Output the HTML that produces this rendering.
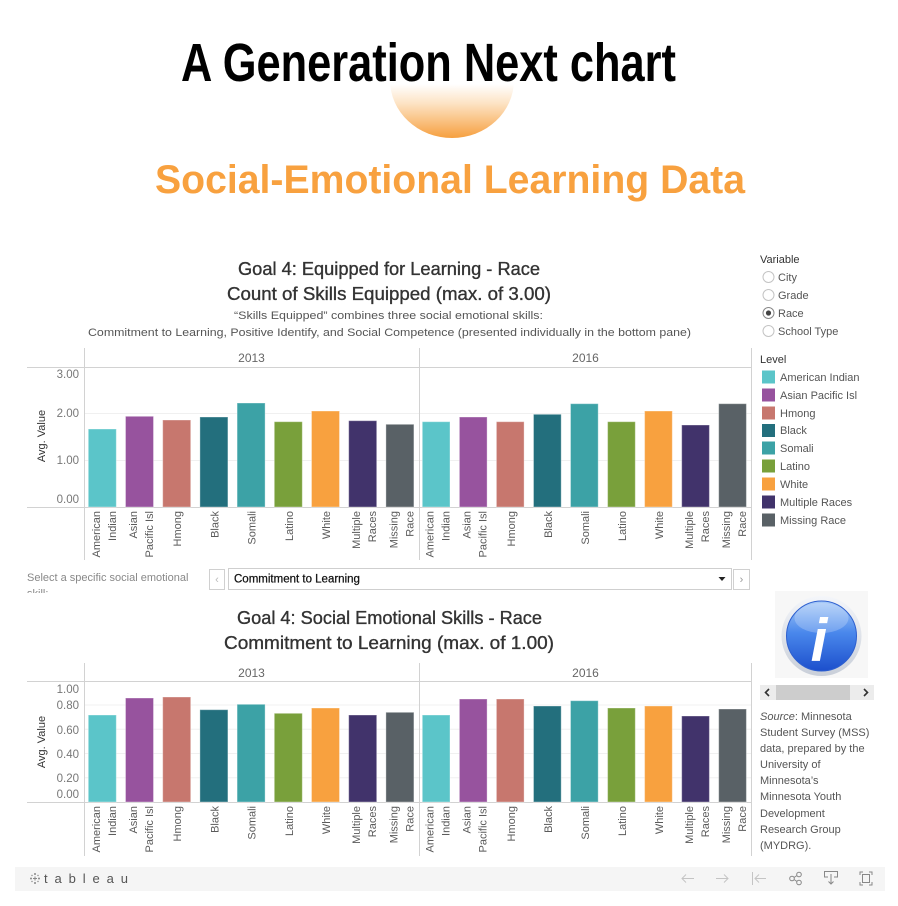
<!DOCTYPE html>
<html><head><meta charset="utf-8"><style>
html,body{margin:0;padding:0;background:#fff;}
svg{display:block;}
text{font-family:"Liberation Sans",Arial,sans-serif;}
</style></head><body>
<svg width="898" height="906" viewBox="0 0 898 906" xmlns="http://www.w3.org/2000/svg">
<defs>
<linearGradient id="og" x1="0" y1="84" x2="0" y2="138" gradientUnits="userSpaceOnUse">
<stop offset="0" stop-color="#ffffff"/><stop offset="0.35" stop-color="#fde4c6"/><stop offset="1" stop-color="#f6a040"/>
</linearGradient>
<linearGradient id="bg1" x1="0" y1="0" x2="0" y2="1">
<stop offset="0" stop-color="#a9cbf8"/><stop offset="0.45" stop-color="#4a88ec"/><stop offset="1" stop-color="#1c4fcc"/>
</linearGradient>
<linearGradient id="ring" x1="0" y1="0" x2="0" y2="1">
<stop offset="0" stop-color="#f4f6fa"/><stop offset="1" stop-color="#c9cfd9"/>
</linearGradient>
<clipPath id="selclip"><rect x="20" y="565" width="185" height="28"/></clipPath>
</defs>

<!-- Header -->
<ellipse cx="452" cy="80" rx="62" ry="58" fill="url(#og)"/>
<text x="181" y="81" font-size="54" font-weight="bold" fill="#000" textLength="495" lengthAdjust="spacingAndGlyphs">A Generation Next chart</text>
<text x="155" y="193" font-size="40" font-weight="bold" fill="#f8a13f" textLength="590" lengthAdjust="spacingAndGlyphs">Social-Emotional Learning Data</text>

<!-- Top chart titles -->
<g fill="#333" stroke="#333" stroke-width="0.35" font-size="18">
<text x="238" y="275" textLength="302" lengthAdjust="spacingAndGlyphs">Goal 4: Equipped for Learning - Race</text>
<text x="227" y="300" textLength="324" lengthAdjust="spacingAndGlyphs">Count of Skills Equipped (max. of 3.00)</text>
</g>
<g fill="#555" font-size="11">
<text x="234" y="319" textLength="309" lengthAdjust="spacingAndGlyphs">“Skills Equipped” combines three social emotional skills:</text>
<text x="88" y="336" textLength="603" lengthAdjust="spacingAndGlyphs">Commitment to Learning, Positive Identify, and Social Competence (presented individually in the bottom pane)</text>
</g>

<!-- Top chart frame -->
<g stroke="#f0f0f0" stroke-width="1">
<line x1="85" y1="413.5" x2="751" y2="413.5"/>
<line x1="85" y1="460.5" x2="751" y2="460.5"/>
</g>
<g stroke="#d2d2d2" stroke-width="1">
<line x1="84.5" y1="348" x2="84.5" y2="560"/>
<line x1="419.5" y1="348" x2="419.5" y2="560"/>
<line x1="751.5" y1="348" x2="751.5" y2="560"/>
<line x1="27" y1="367.5" x2="751" y2="367.5"/>
<line x1="27" y1="507.5" x2="751" y2="507.5"/>
</g>
<g fill="#666" font-size="12" text-anchor="middle">
<text x="251.5" y="362">2013</text>
<text x="585.5" y="362">2016</text>
</g>
<g fill="#777" font-size="11.5" text-anchor="end">
<text x="79" y="378">3.00</text>
<text x="79" y="417">2.00</text>
<text x="79" y="464">1.00</text>
<text x="79" y="503">0.00</text>
</g>
<text transform="translate(45,436) rotate(-90)" text-anchor="middle" font-size="11" fill="#333">Avg. Value</text>

<!-- Top bars -->
<g stroke="rgba(255,255,255,0.35)" stroke-width="1">
<rect x="88.3" y="429" width="28" height="78" fill="#5bc5c9"/>
<rect x="125.5" y="416.3" width="28" height="90.7" fill="#97539e"/>
<rect x="162.7" y="420" width="28" height="87" fill="#c7776e"/>
<rect x="199.9" y="417" width="28" height="90" fill="#236f7d"/>
<rect x="237.1" y="403" width="28" height="104" fill="#3ca2a6"/>
<rect x="274.3" y="421.7" width="28" height="85.3" fill="#79a03b"/>
<rect x="311.5" y="411" width="28" height="96" fill="#f8a13f"/>
<rect x="348.7" y="420.7" width="28" height="86.3" fill="#41336b"/>
<rect x="385.9" y="424.3" width="28" height="82.7" fill="#596166"/>
<rect x="422.3" y="421.7" width="27.7" height="85.3" fill="#5bc5c9"/>
<rect x="459.4" y="417" width="27.7" height="90" fill="#97539e"/>
<rect x="496.4" y="421.7" width="27.7" height="85.3" fill="#c7776e"/>
<rect x="533.5" y="414.3" width="27.7" height="92.7" fill="#236f7d"/>
<rect x="570.5" y="403.7" width="27.7" height="103.3" fill="#3ca2a6"/>
<rect x="607.6" y="421.7" width="27.7" height="85.3" fill="#79a03b"/>
<rect x="644.6" y="411" width="27.7" height="96" fill="#f8a13f"/>
<rect x="681.7" y="425" width="27.7" height="82" fill="#41336b"/>
<rect x="718.7" y="403.7" width="27.7" height="103.3" fill="#596166"/>
</g>

<!-- Top x labels -->
<g fill="#5a5a5a" font-size="11" text-anchor="end">
<text transform="translate(99.8,511) rotate(-90)">American</text>
<text transform="translate(115.8,511) rotate(-90)">Indian</text>
<text transform="translate(137,511) rotate(-90)">Asian</text>
<text transform="translate(153,511) rotate(-90)">Pacific Isl</text>
<text transform="translate(181.2,511) rotate(-90)">Hmong</text>
<text transform="translate(218.4,511) rotate(-90)">Black</text>
<text transform="translate(255.6,511) rotate(-90)">Somali</text>
<text transform="translate(292.8,511) rotate(-90)">Latino</text>
<text transform="translate(330,511) rotate(-90)">White</text>
<text transform="translate(360.2,511) rotate(-90)">Multiple</text>
<text transform="translate(376.2,511) rotate(-90)">Races</text>
<text transform="translate(397.4,511) rotate(-90)">Missing</text>
<text transform="translate(413.4,511) rotate(-90)">Race</text>
<text transform="translate(433.7,511) rotate(-90)">American</text>
<text transform="translate(449.7,511) rotate(-90)">Indian</text>
<text transform="translate(470.7,511) rotate(-90)">Asian</text>
<text transform="translate(486.7,511) rotate(-90)">Pacific Isl</text>
<text transform="translate(514.8,511) rotate(-90)">Hmong</text>
<text transform="translate(551.8,511) rotate(-90)">Black</text>
<text transform="translate(588.9,511) rotate(-90)">Somali</text>
<text transform="translate(625.9,511) rotate(-90)">Latino</text>
<text transform="translate(663,511) rotate(-90)">White</text>
<text transform="translate(693,511) rotate(-90)">Multiple</text>
<text transform="translate(709,511) rotate(-90)">Races</text>
<text transform="translate(730.1,511) rotate(-90)">Missing</text>
<text transform="translate(746.1,511) rotate(-90)">Race</text>
</g>

<!-- Right legend -->
<g font-size="11">
<text x="760" y="263" fill="#333">Variable</text>
<g fill="#fff" stroke="#c4c4c4" stroke-width="1">
<circle cx="768.5" cy="277" r="5.5"/>
<circle cx="768.5" cy="295" r="5.5"/>
<circle cx="768.5" cy="313" r="5.5" stroke="#888"/>
<circle cx="768.5" cy="331" r="5.5"/>
</g>
<circle cx="768.5" cy="313" r="2.6" fill="#444"/>
<g fill="#555">
<text x="778" y="281">City</text>
<text x="778" y="299">Grade</text>
<text x="778" y="317">Race</text>
<text x="778" y="335">School Type</text>
</g>
<text x="760" y="363" fill="#333">Level</text>
<rect x="762" y="370.5" width="13" height="13" fill="#5bc5c9"/>
<rect x="762" y="388.5" width="13" height="13" fill="#97539e"/>
<rect x="762" y="406.5" width="13" height="13" fill="#c7776e"/>
<rect x="762" y="424" width="13" height="13" fill="#236f7d"/>
<rect x="762" y="441.5" width="13" height="13" fill="#3ca2a6"/>
<rect x="762" y="459.5" width="13" height="13" fill="#79a03b"/>
<rect x="762" y="477.5" width="13" height="13" fill="#f8a13f"/>
<rect x="762" y="495.5" width="13" height="13" fill="#41336b"/>
<rect x="762" y="513.5" width="13" height="13" fill="#596166"/>
<g fill="#555">
<text x="780" y="381">American Indian</text>
<text x="780" y="399">Asian Pacific Isl</text>
<text x="780" y="417">Hmong</text>
<text x="780" y="434">Black</text>
<text x="780" y="452">Somali</text>
<text x="780" y="470">Latino</text>
<text x="780" y="488">White</text>
<text x="780" y="506">Multiple Races</text>
<text x="780" y="524">Missing Race</text>
</g>
</g>

<!-- Selector -->
<g clip-path="url(#selclip)" fill="#888" font-size="11">
<text x="27" y="581">Select a specific social emotional</text>
<text x="27" y="597">skill:</text>
</g>
<rect x="209.5" y="569.5" width="15" height="20" fill="#fff" stroke="#d0d0d0"/>
<text x="217" y="583" font-size="11" fill="#bbb" text-anchor="middle">‹</text>
<rect x="228.5" y="568.5" width="503" height="21" fill="#fff" stroke="#cfcfcf"/>
<text x="234" y="582.5" font-size="11.5" fill="#111" stroke="#111" stroke-width="0.25">Commitment to Learning</text>
<polygon points="718.5,577 725.5,577 722,581" fill="#222"/>
<rect x="733.5" y="569.5" width="16" height="20" fill="#fff" stroke="#d0d0d0"/>
<text x="741.5" y="583" font-size="11" fill="#999" text-anchor="middle">›</text>

<!-- Bottom titles -->
<g fill="#333" stroke="#333" stroke-width="0.35" font-size="18">
<text x="237" y="624" textLength="305" lengthAdjust="spacingAndGlyphs">Goal 4: Social Emotional Skills - Race</text>
<text x="224" y="649" textLength="330" lengthAdjust="spacingAndGlyphs">Commitment to Learning (max. of 1.00)</text>
</g>

<!-- Bottom chart frame -->
<g stroke="#f0f0f0" stroke-width="1">
<line x1="85" y1="705" x2="751" y2="705"/>
<line x1="85" y1="729.2" x2="751" y2="729.2"/>
<line x1="85" y1="753.5" x2="751" y2="753.5"/>
<line x1="85" y1="777.8" x2="751" y2="777.8"/>
</g>
<g stroke="#d2d2d2" stroke-width="1">
<line x1="84.5" y1="663" x2="84.5" y2="856"/>
<line x1="419.5" y1="663" x2="419.5" y2="856"/>
<line x1="751.5" y1="663" x2="751.5" y2="856"/>
<line x1="27" y1="681.5" x2="751" y2="681.5"/>
<line x1="27" y1="802.5" x2="751" y2="802.5"/>
</g>
<g fill="#666" font-size="12" text-anchor="middle">
<text x="251.5" y="677">2013</text>
<text x="585.5" y="677">2016</text>
</g>
<g fill="#777" font-size="11.5" text-anchor="end">
<text x="79" y="693">1.00</text>
<text x="79" y="709">0.80</text>
<text x="79" y="734">0.60</text>
<text x="79" y="758">0.40</text>
<text x="79" y="782">0.20</text>
<text x="79" y="798">0.00</text>
</g>
<text transform="translate(45,742) rotate(-90)" text-anchor="middle" font-size="11" fill="#333">Avg. Value</text>

<!-- Bottom bars -->
<g stroke="rgba(255,255,255,0.35)" stroke-width="1">
<rect x="88.3" y="715" width="28" height="87" fill="#5bc5c9"/>
<rect x="125.5" y="698" width="28" height="104" fill="#97539e"/>
<rect x="162.7" y="697" width="28" height="105" fill="#c7776e"/>
<rect x="199.9" y="709.7" width="28" height="92.3" fill="#236f7d"/>
<rect x="237.1" y="704.3" width="28" height="97.7" fill="#3ca2a6"/>
<rect x="274.3" y="713.3" width="28" height="88.7" fill="#79a03b"/>
<rect x="311.5" y="708" width="28" height="94" fill="#f8a13f"/>
<rect x="348.7" y="715" width="28" height="87" fill="#41336b"/>
<rect x="385.9" y="712.3" width="28" height="89.7" fill="#596166"/>
<rect x="422.3" y="715" width="27.7" height="87" fill="#5bc5c9"/>
<rect x="459.4" y="699" width="27.7" height="103" fill="#97539e"/>
<rect x="496.4" y="699" width="27.7" height="103" fill="#c7776e"/>
<rect x="533.5" y="706" width="27.7" height="96" fill="#236f7d"/>
<rect x="570.5" y="700.7" width="27.7" height="101.3" fill="#3ca2a6"/>
<rect x="607.6" y="708" width="27.7" height="94" fill="#79a03b"/>
<rect x="644.6" y="706" width="27.7" height="96" fill="#f8a13f"/>
<rect x="681.7" y="716" width="27.7" height="86" fill="#41336b"/>
<rect x="718.7" y="709" width="27.7" height="93" fill="#596166"/>
</g>

<!-- Bottom x labels -->
<g fill="#5a5a5a" font-size="11" text-anchor="end">
<text transform="translate(99.8,806) rotate(-90)">American</text>
<text transform="translate(115.8,806) rotate(-90)">Indian</text>
<text transform="translate(137,806) rotate(-90)">Asian</text>
<text transform="translate(153,806) rotate(-90)">Pacific Isl</text>
<text transform="translate(181.2,806) rotate(-90)">Hmong</text>
<text transform="translate(218.4,806) rotate(-90)">Black</text>
<text transform="translate(255.6,806) rotate(-90)">Somali</text>
<text transform="translate(292.8,806) rotate(-90)">Latino</text>
<text transform="translate(330,806) rotate(-90)">White</text>
<text transform="translate(360.2,806) rotate(-90)">Multiple</text>
<text transform="translate(376.2,806) rotate(-90)">Races</text>
<text transform="translate(397.4,806) rotate(-90)">Missing</text>
<text transform="translate(413.4,806) rotate(-90)">Race</text>
<text transform="translate(433.7,806) rotate(-90)">American</text>
<text transform="translate(449.7,806) rotate(-90)">Indian</text>
<text transform="translate(470.7,806) rotate(-90)">Asian</text>
<text transform="translate(486.7,806) rotate(-90)">Pacific Isl</text>
<text transform="translate(514.8,806) rotate(-90)">Hmong</text>
<text transform="translate(551.8,806) rotate(-90)">Black</text>
<text transform="translate(588.9,806) rotate(-90)">Somali</text>
<text transform="translate(625.9,806) rotate(-90)">Latino</text>
<text transform="translate(663,806) rotate(-90)">White</text>
<text transform="translate(693,806) rotate(-90)">Multiple</text>
<text transform="translate(709,806) rotate(-90)">Races</text>
<text transform="translate(730.1,806) rotate(-90)">Missing</text>
<text transform="translate(746.1,806) rotate(-90)">Race</text>
</g>

<!-- Info icon -->
<rect x="775" y="591" width="93" height="87" fill="#f7f7f7"/>
<circle cx="821.5" cy="636" r="40" fill="url(#ring)"/>
<circle cx="821.5" cy="636" r="35" fill="url(#bg1)" stroke="#2d5fcf" stroke-width="1"/>
<ellipse cx="821.5" cy="618" rx="27" ry="15" fill="#ffffff" opacity="0.22"/>
<text x="819" y="661" font-family="'Liberation Serif',serif" font-weight="bold" font-style="italic" font-size="60" fill="#fff" text-anchor="middle">i</text>

<!-- Scrollbar -->
<rect x="760" y="685" width="114" height="15" fill="#ececec"/>
<rect x="776" y="685" width="74" height="15" fill="#cdcdcd"/>
<polyline points="769,689 765.5,692.5 769,696" fill="none" stroke="#333" stroke-width="1.6"/>
<polyline points="864,689 867.5,692.5 864,696" fill="none" stroke="#333" stroke-width="1.6"/>

<!-- Source text -->
<g fill="#555" font-size="11">
<text x="760" y="720"><tspan font-style="italic">Source</tspan>: Minnesota</text>
<text x="760" y="736">Student Survey (MSS)</text>
<text x="760" y="752">data, prepared by the</text>
<text x="760" y="768">University of</text>
<text x="760" y="784">Minnesota’s</text>
<text x="760" y="800">Minnesota Youth</text>
<text x="760" y="817">Development</text>
<text x="760" y="833">Research Group</text>
<text x="760" y="849">(MYDRG).</text>
</g>

<!-- Footer -->
<rect x="15" y="867" width="870" height="24" fill="#f5f5f5"/>
<g fill="#888">
<circle cx="35" cy="874" r="1"/><circle cx="35" cy="883" r="1"/><circle cx="31" cy="878.5" r="1"/><circle cx="39" cy="878.5" r="1"/>
<circle cx="32" cy="875.5" r="0.7"/><circle cx="38" cy="875.5" r="0.7"/><circle cx="32" cy="881.5" r="0.7"/><circle cx="38" cy="881.5" r="0.7"/>
</g>
<line x1="33" y1="878.5" x2="37" y2="878.5" stroke="#888" stroke-width="1"/>
<line x1="35" y1="876.5" x2="35" y2="880.5" stroke="#888" stroke-width="1"/>
<text x="44" y="883" font-size="13" fill="#555" textLength="84" lengthAdjust="spacing">tableau</text>
<g fill="none" stroke="#c4c4c4" stroke-width="1">
<line x1="682" y1="878.5" x2="694" y2="878.5"/><polyline points="686,874.5 682,878.5 686,882.5"/>
<line x1="716" y1="878.5" x2="728" y2="878.5"/><polyline points="724,874.5 728,878.5 724,882.5"/>
<line x1="752.5" y1="872" x2="752.5" y2="885"/><line x1="755" y1="878.5" x2="766" y2="878.5"/><polyline points="759,874.5 755,878.5 759,882.5"/>
</g>
<g fill="none" stroke="#888" stroke-width="1">
<circle cx="792" cy="878.5" r="2.3"/><circle cx="799" cy="874.5" r="2.3"/><circle cx="799" cy="882.5" r="2.3"/>
<line x1="794" y1="877.5" x2="797" y2="875.5"/><line x1="794" y1="879.5" x2="797" y2="881.5"/>
<polyline points="828,877 824.5,877 824.5,871.5 837.5,871.5 837.5,877 834,877"/>
<line x1="831" y1="874" x2="831" y2="884"/><polyline points="828.5,881.5 831,884 833.5,881.5"/>
<polyline points="860,875 860,872 863,872"/><polyline points="869,872 872,872 872,875"/>
<polyline points="860,882 860,885 863,885"/><polyline points="869,885 872,885 872,882"/>
<rect x="862.5" y="874.5" width="7" height="8"/>
</g>
</svg>
</body></html>
